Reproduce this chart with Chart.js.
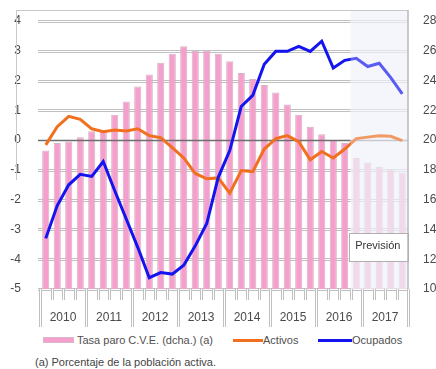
<!DOCTYPE html>
<html lang="es">
<head>
  <meta charset="UTF-8" />
  <title>Tasa de paro, activos y ocupados</title>
  <script src="https://cdn.jsdelivr.net/npm/chart.js"></script>
  <style>
    body {
      margin: 0;
      background: #fff;
      font-family: 'Liberation Sans', Arial, sans-serif;
    }
    .wrap { position: relative; width: 436px; height: 369px; }
    .chart-box { position: absolute; left: 0; top: 0; width: 436px; height: 333px; }
    .leg { position: absolute; top: 333px; height: 14px; line-height: 14px; font-size: 11px; color: #505050; white-space: nowrap; }
    .sw { position: absolute; }
    .note { position: absolute; left: 35px; top: 356px; font-size: 11px; color: #444; white-space: nowrap; }
  </style>
</head>
<body>
  <div class="wrap">
    <div class="chart-box"><canvas id="paroChart"></canvas></div>

    <span class="sw" style="left:43px;top:337px;width:31px;height:6px;background:#f5a0cc;border:1px solid #d9b8c8;box-sizing:border-box"></span>
    <span class="leg" style="left:77px">Tasa paro C.V.E. (dcha.) (a)</span>
    <span class="sw" style="left:233px;top:339px;width:30px;height:3px;background:#f07020"></span>
    <span class="leg" style="left:263px">Activos</span>
    <span class="sw" style="left:318px;top:339px;width:34px;height:3px;background:#1414ee"></span>
    <span class="leg" style="left:352px">Ocupados</span>

    <div class="note">(a) Porcentaje de la población activa.</div>
  </div>

<script>
  const years = ['2010', '2011', '2012', '2013', '2014', '2015', '2016', '2017'];
  const quarters = years.flatMap(y => ['I', 'II', 'III', 'IV'].map(q => q + ' ' + y));

  // tasa de paro (eje dcho.)
  const tasaParo = [19.3, 19.8, 19.9, 20.2, 20.6, 20.7, 21.7, 22.6,
                    23.6, 24.4, 25.2, 25.8, 26.3, 26.0, 26.0, 25.8,
                    25.3, 24.5, 24.1, 23.7, 23.2, 22.4, 21.7, 20.9,
                    20.4, 20.0, 19.8, 18.8, 18.5, 18.2, 18.0, 17.8];
  const activos = [-0.16, 0.45, 0.8, 0.7, 0.38, 0.28, 0.34, 0.31,
                   0.38, 0.15, 0.08, -0.25, -0.6, -1.12, -1.3, -1.27,
                   -1.78, -1.02, -1.06, -0.3, 0.05, 0.15, -0.05, -0.66,
                   -0.38, -0.6, -0.3, 0.05, 0.1, 0.15, 0.13, -0.02];
  const ocupados = [-3.3, -2.2, -1.5, -1.15, -1.22, -0.72, -1.7, -2.65,
                    -3.6, -4.62, -4.45, -4.5, -4.2, -3.55, -2.8, -1.25,
                    -0.35, 1.13, 1.5, 2.55, 2.98, 2.98, 3.15, 2.98,
                    3.32, 2.42, 2.68, 2.75, 2.47, 2.58, 2.1, 1.55];
  const forecastFrom = 27; // IV 2016

  function seg(ctx, x1, y1, x2, y2) {
    ctx.beginPath(); ctx.moveTo(x1, y1); ctx.lineTo(x2, y2); ctx.stroke();
  }
  // gray line with a white core, like the original
  function dbl(ctx, x1, y1, x2, y2) {
    ctx.strokeStyle = '#c0c0c0'; ctx.lineWidth = 3; seg(ctx, x1, y1, x2, y2);
    ctx.strokeStyle = '#fff'; ctx.lineWidth = 1; seg(ctx, x1, y1, x2, y2);
  }
  function shade(chart, alpha) {
    const { ctx, chartArea: a, scales: { x } } = chart;
    const x0 = (x.getPixelForValue(forecastFrom - 1) + x.getPixelForValue(forecastFrom)) / 2;
    ctx.fillStyle = 'rgba(239,242,249,' + alpha + ')';
    ctx.fillRect(x0, 10, a.right - x0, a.bottom - 10);
  }

  const decor = {
    id: 'decor',
    beforeDatasetsDraw(chart) {
      const { ctx, chartArea: a, scales: { y } } = chart;
      ctx.save();
      y.ticks.forEach(t => {
        if (t.value === 0) return;
        const py = Math.round(y.getPixelForValue(t.value)) + 0.5;
        dbl(ctx, a.left - 2, py, a.right, py);
      });
      ctx.restore();
    },
    afterDatasetDraw(chart, args) {
      if (args.index !== 0) return;
      const { ctx, chartArea: a, scales: { y } } = chart;
      ctx.save();
      const py = Math.round(y.getPixelForValue(0)) + 0.5;
      ctx.strokeStyle = '#6e6e6e'; ctx.lineWidth = 1.5;
      seg(ctx, a.left - 2, py, a.right, py);
      shade(chart, 0.55);
      ctx.restore();
    },
    afterDatasetsDraw(chart) {
      const { ctx, chartArea: a, scales: { x, y } } = chart;
      ctx.save();
      shade(chart, 0.32);

      // x axis ticks: quarters short, years long
      const w = x.getPixelForValue(1) - x.getPixelForValue(0);
      for (let i = 0; i <= quarters.length; i++) {
        const px = Math.round(x.getPixelForValue(i) - w / 2) + 0.5;
        dbl(ctx, px, a.bottom, px, i % 4 === 0 ? a.bottom + 38 : a.bottom + 11);
      }
      ctx.fillStyle = '#4a4a4a';
      ctx.font = '12px "Liberation Sans", Arial, sans-serif';
      ctx.textAlign = 'center';
      ctx.textBaseline = 'middle';
      years.forEach((yr, k) => {
        const cx = (x.getPixelForValue(4 * k + 1) + x.getPixelForValue(4 * k + 2)) / 2;
        ctx.fillText(yr, cx, a.bottom + 29);
      });

      // frame
      ctx.strokeStyle = '#c8c8c8'; ctx.lineWidth = 1;
      seg(ctx, 16, 10.5, a.right, 10.5);
      seg(ctx, 16.5, 10, 16.5, 180);
      ctx.strokeStyle = '#b8b8b8'; ctx.lineWidth = 1.5;
      seg(ctx, a.right, 10, a.right, a.bottom);

      // "Previsión" box
      const x0 = (x.getPixelForValue(forecastFrom - 1) + x.getPixelForValue(forecastFrom)) / 2;
      const top = Math.round(y.getPixelForValue(-3.12)) + 0.5;
      const bot = Math.round(y.getPixelForValue(-4.05)) + 0.5;
      ctx.fillStyle = '#fff';
      ctx.fillRect(x0 - 2, top, a.right - 1 - (x0 - 2), bot - top);
      ctx.strokeStyle = '#b0b0b0'; ctx.lineWidth = 1;
      ctx.strokeRect(Math.round(x0 - 2) + 0.5, top, Math.round(a.right - 1 - (x0 - 2)), bot - top);
      ctx.fillStyle = '#333';
      ctx.font = '11px "Liberation Sans", Arial, sans-serif';
      ctx.fillText('Previsión', (x0 - 2 + a.right - 1) / 2, (top + bot) / 2 - 2);
      ctx.restore();
    }
  };

  Chart.defaults.font.family = '"Liberation Sans", Arial, sans-serif';

  new Chart(document.getElementById('paroChart'), {
    type: 'bar',
    data: {
      labels: quarters,
      datasets: [
        {
          type: 'bar',
          label: 'Tasa paro C.V.E. (dcha.) (a)',
          data: tasaParo,
          yAxisID: 'y1',
          backgroundColor: '#f5a0cc',
          borderColor: '#d2b4c4',
          borderWidth: 1,
          barPercentage: 0.62,
          categoryPercentage: 1,
          order: 3
        },
        {
          type: 'line',
          label: 'Activos',
          data: activos,
          yAxisID: 'y',
          borderColor: '#f07020',
          borderWidth: 3,
          pointRadius: 0,
          tension: 0,
          order: 1
        },
        {
          type: 'line',
          label: 'Ocupados',
          data: ocupados,
          yAxisID: 'y',
          borderColor: '#1414ee',
          borderWidth: 3,
          pointRadius: 0,
          tension: 0,
          order: 0
        }
      ]
    },
    options: {
      responsive: true,
      maintainAspectRatio: false,
      animation: false,
      layout: { padding: { top: 21, left: 0, right: 0, bottom: 0 } },
      plugins: { legend: { display: false }, tooltip: { enabled: false } },
      scales: {
        x: {
          grid: { display: false },
          border: { display: false },
          ticks: { display: false },
          afterFit: s => { s.height = 44; }
        },
        y: {
          position: 'left',
          min: -5,
          max: 4,
          ticks: { stepSize: 1, padding: 11, color: '#4a4a4a', font: { size: 12 } },
          grid: { display: false },
          border: { display: false },
          afterFit: s => { s.width = 40; }
        },
        y1: {
          position: 'right',
          min: 10,
          max: 28,
          ticks: { stepSize: 2, padding: 7, color: '#4a4a4a', font: { size: 12 } },
          grid: { display: false },
          border: { display: false },
          afterFit: s => { s.width = 28; }
        }
      }
    },
    plugins: [decor]
  });
</script>
</body>
</html>
